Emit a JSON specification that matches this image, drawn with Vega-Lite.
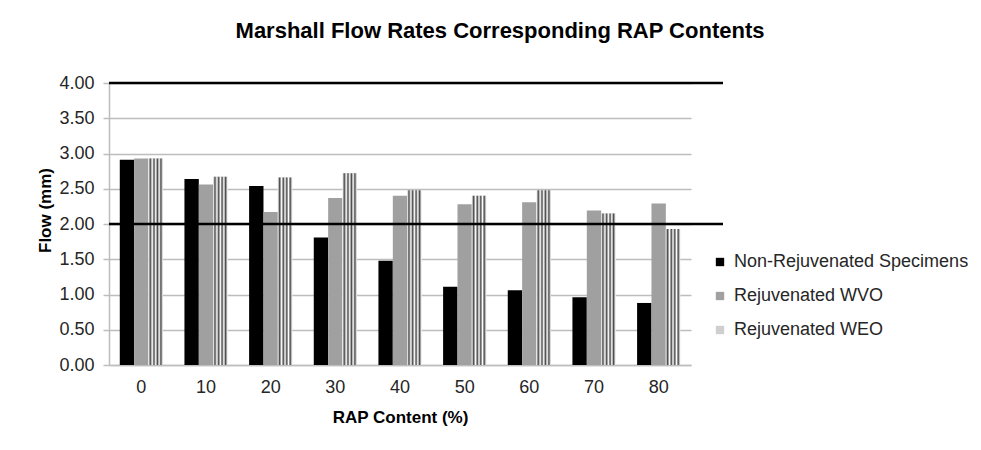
{
  "$schema": "https://vega.github.io/schema/vega-lite/v6.json",
  "width": 614,
  "height": 282,
  "autosize": {"type": "none"},
  "padding": {"left": 109, "top": 83, "right": 258, "bottom": 85},
  "background": "white",
  "title": {
    "text": "Marshall Flow Rates Corresponding RAP Contents",
    "font": "Liberation Sans",
    "fontSize": 22,
    "fontWeight": "bold",
    "color": "#000000",
    "anchor": "middle",
    "frame": "group",
    "dx": 84,
    "offset": 31
  },
  "config": {
    "view": {"stroke": null},
    "font": "Liberation Sans",
    "axisY": {
      "titleFont": "Liberation Sans",
      "titleFontSize": 17,
      "titleFontWeight": "bold",
      "titleColor": "#000000",
      "titleX": -64,
      "titleY": 127,
      "titleAlign": "center",
      "titleBaseline": "middle",
      "titleAngle": -90,
      "labelOverlap": false,
      "labelFont": "Liberation Sans",
      "labelFontSize": 18,
      "labelColor": "#262626",
      "labelPadding": 9,
      "tickSize": 6,
      "tickColor": "#bdbdbd",
      "tickWidth": 1.5,
      "domainColor": "#bdbdbd",
      "domainWidth": 1.5,
      "gridColor": "#bdbdbd",
      "gridWidth": 1.5
    }
  },
  "datasets": {
    "bars": [
      {"rap": 0, "series": "Non-Rejuvenated Specimens", "flow": 2.91},
      {"rap": 0, "series": "Rejuvenated WVO", "flow": 2.93},
      {"rap": 0, "series": "Rejuvenated WEO", "flow": 2.93},
      {"rap": 10, "series": "Non-Rejuvenated Specimens", "flow": 2.64},
      {"rap": 10, "series": "Rejuvenated WVO", "flow": 2.56},
      {"rap": 10, "series": "Rejuvenated WEO", "flow": 2.67},
      {"rap": 20, "series": "Non-Rejuvenated Specimens", "flow": 2.54},
      {"rap": 20, "series": "Rejuvenated WVO", "flow": 2.17},
      {"rap": 20, "series": "Rejuvenated WEO", "flow": 2.66},
      {"rap": 30, "series": "Non-Rejuvenated Specimens", "flow": 1.81},
      {"rap": 30, "series": "Rejuvenated WVO", "flow": 2.37},
      {"rap": 30, "series": "Rejuvenated WEO", "flow": 2.72},
      {"rap": 40, "series": "Non-Rejuvenated Specimens", "flow": 1.48},
      {"rap": 40, "series": "Rejuvenated WVO", "flow": 2.40},
      {"rap": 40, "series": "Rejuvenated WEO", "flow": 2.48},
      {"rap": 50, "series": "Non-Rejuvenated Specimens", "flow": 1.11},
      {"rap": 50, "series": "Rejuvenated WVO", "flow": 2.28},
      {"rap": 50, "series": "Rejuvenated WEO", "flow": 2.40},
      {"rap": 60, "series": "Non-Rejuvenated Specimens", "flow": 1.06},
      {"rap": 60, "series": "Rejuvenated WVO", "flow": 2.31},
      {"rap": 60, "series": "Rejuvenated WEO", "flow": 2.48},
      {"rap": 70, "series": "Non-Rejuvenated Specimens", "flow": 0.96},
      {"rap": 70, "series": "Rejuvenated WVO", "flow": 2.19},
      {"rap": 70, "series": "Rejuvenated WEO", "flow": 2.15},
      {"rap": 80, "series": "Non-Rejuvenated Specimens", "flow": 0.88},
      {"rap": 80, "series": "Rejuvenated WVO", "flow": 2.29},
      {"rap": 80, "series": "Rejuvenated WEO", "flow": 1.93}
    ],
    "refs": [{"ref": 2}, {"ref": 4}]
  },
  "layer": [
    {
      "data": {"name": "bars"},
      "mark": {"type": "bar"},
      "encoding": {
        "x": {
          "field": "rap",
          "type": "ordinal",
          "scale": {"range": [0, 582], "paddingInner": 0.333, "paddingOuter": 0.1667},
          "axis": {
            "title": "RAP Content (%)",
            "titleFont": "Liberation Sans",
            "titleFontSize": 17,
            "titleFontWeight": "bold",
            "titleColor": "#000000",
            "titlePadding": 13,
            "labelAngle": 0,
            "labelFont": "Liberation Sans",
            "labelFontSize": 18,
            "labelColor": "#262626",
            "labelPadding": 13,
            "ticks": false,
            "grid": false,
            "domainColor": "#bfbfbf",
            "domainWidth": 1.5
          }
        },
        "xOffset": {
          "field": "series",
          "type": "nominal",
          "scale": {"domain": ["Non-Rejuvenated Specimens", "Rejuvenated WVO", "Rejuvenated WEO"], "paddingInner": 0, "paddingOuter": 0}
        },
        "y": {
          "field": "flow",
          "type": "quantitative",
          "scale": {"domain": [0, 4], "nice": false},
          "axis": {"title": "Flow (mm)", "values": [0, 0.5, 1, 1.5, 2, 2.5, 3, 3.5, 4], "format": ".2f"}
        },
        "color": {
          "field": "series",
          "type": "nominal",
          "scale": {
            "domain": ["Non-Rejuvenated Specimens", "Rejuvenated WVO", "Rejuvenated WEO"],
            "range": ["#000000", "#a0a0a0", "#cfcfcf"]
          },
          "legend": {
            "title": null,
            "orient": "none",
            "legendX": 602,
            "legendY": 170,
            "labelFont": "Liberation Sans",
            "labelFontSize": 18,
            "labelColor": "#262626",
            "labelLimit": 0,
            "symbolType": "square",
            "symbolSize": 70,
            "symbolStrokeWidth": 0,
            "rowPadding": 16,
            "labelOffset": 5
          }
        }
      }
    },
    {
      "data": {"name": "bars"},
      "transform": [{"filter": "datum.series === 'Rejuvenated WEO'"}],
      "mark": {
        "type": "bar",
        "fill": {
          "gradient": "linear",
          "x1": 0, "y1": 0, "x2": 1, "y2": 0,
          "stops": [
            {"offset": 0, "color": "#ffffff"},
            {"offset": 0.12, "color": "#4a4a4a"},
            {"offset": 0.26, "color": "#ffffff"},
            {"offset": 0.38, "color": "#4a4a4a"},
            {"offset": 0.5, "color": "#ffffff"},
            {"offset": 0.62, "color": "#4a4a4a"},
            {"offset": 0.74, "color": "#ffffff"},
            {"offset": 0.86, "color": "#4a4a4a"},
            {"offset": 1, "color": "#ffffff"}
          ]
        }
      },
      "encoding": {
        "x": {"field": "rap", "type": "ordinal"},
        "xOffset": {"field": "series", "type": "nominal"},
        "y": {
          "field": "flow",
          "type": "quantitative",
          "axis": {"title": "Flow (mm)", "values": [0, 0.5, 1, 1.5, 2, 2.5, 3, 3.5, 4], "format": ".2f"}
        }
      }
    },
    {
      "data": {"name": "refs"},
      "mark": {"type": "rule", "color": "#000000", "strokeWidth": 2.5},
      "encoding": {
        "y": {
          "field": "ref",
          "type": "quantitative",
          "axis": {"title": "Flow (mm)", "values": [0, 0.5, 1, 1.5, 2, 2.5, 3, 3.5, 4], "format": ".2f"}
        }
      }
    }
  ]
}
